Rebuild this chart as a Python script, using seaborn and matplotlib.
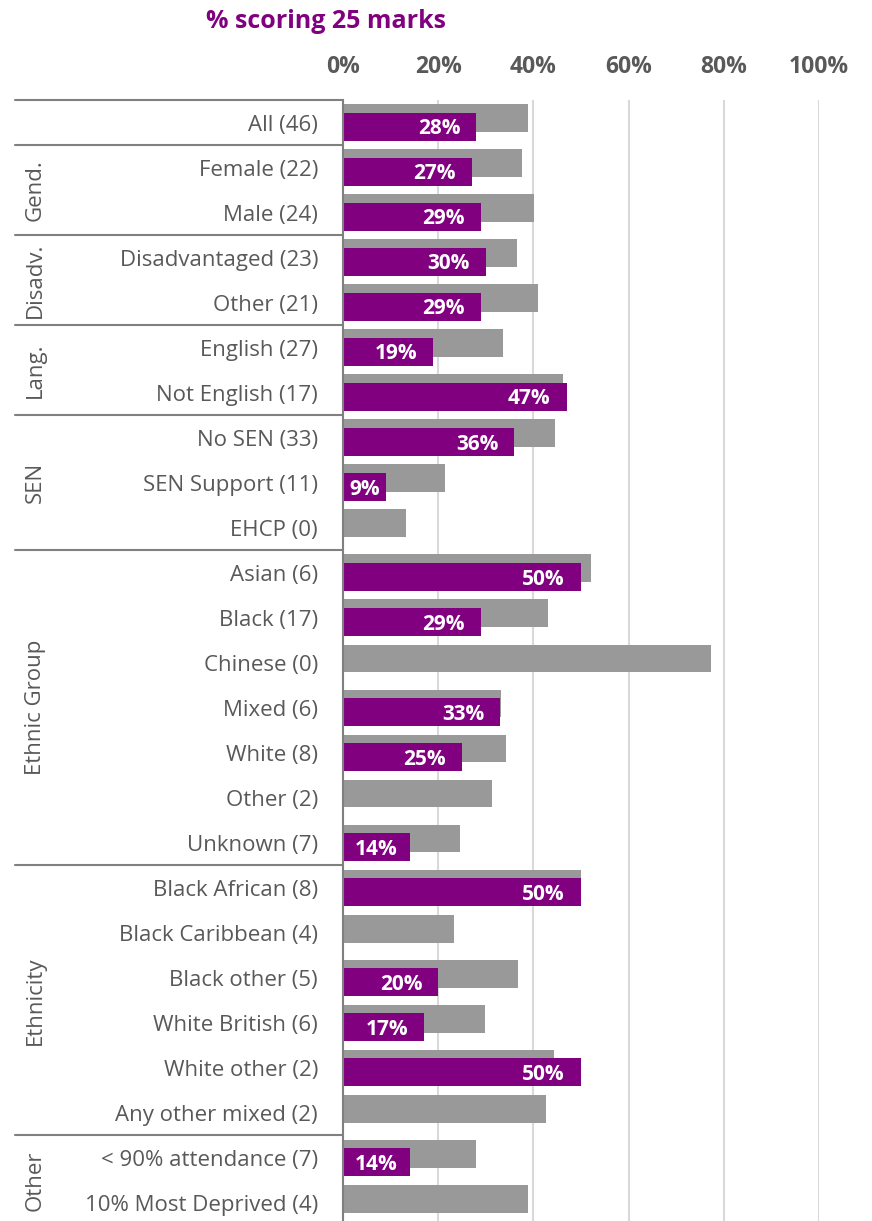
import matplotlib
matplotlib.use("Agg")
import matplotlib.pyplot as plt
import matplotlib.transforms as mtransforms
import numpy as np
import pandas as pd
import seaborn as sns

# ---- data -------------------------------------------------------------
categories = [
    "All (46)",
    "Female (22)", "Male (24)",
    "Disadvantaged (23)", "Other (21)",
    "English (27)", "Not English (17)",
    "No SEN (33)", "SEN Support (11)", "EHCP (0)",
    "Asian (6)", "Black (17)", "Chinese (0)", "Mixed (6)", "White (8)",
    "Other (2)", "Unknown (7)",
    "Black African (8)", "Black Caribbean (4)", "Black other (5)",
    "White British (6)", "White other (2)", "Any other mixed (2)",
    "< 90% attendance (7)", "10% Most Deprived (4)",
]
# comparison (grey) percentages
comparison = [
    38.8,
    37.6, 40.1,
    36.6, 40.9,
    33.6, 46.2,
    44.5, 21.4, 13.2,
    52.2, 43.0, 77.3, 33.1, 34.3, 31.3, 24.5,
    49.9, 23.3, 36.7, 29.9, 44.3, 42.6,
    28.0, 38.8,
]
# school percentages scoring 25 marks (None = no pupils)
school = [
    28,
    27, 29,
    30, 29,
    19, 47,
    36, 9, None,
    50, 29, None, 33, 25, None, 14,
    50, None, 20, 17, 50, None,
    14, None,
]
# group labels with the number of rows they span
groups = [("", 1), ("Gend.", 2), ("Disadv.", 2), ("Lang.", 2), ("SEN", 3),
          ("Ethnic Group", 7), ("Ethnicity", 6), ("Other", 2)]
x_ticks = [0, 20, 40, 60, 80, 100]
title = "% scoring 25 marks"

# ---- style ------------------------------------------------------------
sns.set_theme(style="white")
plt.rcParams["font.family"] = ["Open Sans", "DejaVu Sans"]

PURPLE = "#800080"
GREY = "#999999"
TEXT = "#595959"
LINE = "#808080"

W, H = 872, 1221
fig = plt.figure(figsize=(W / 100, H / 100), dpi=100)
ax = fig.add_axes([343 / W, 0, (819 - 343) / W, 1 - 100 / H])

n = len(categories)
pos = np.arange(n)
shift = 0.095
bar_h = 0.62

df_cmp = pd.DataFrame({"pos": pos - shift, "value": comparison})
df_sch = pd.DataFrame({"pos": pos + shift, "value": school}).dropna()

sns.barplot(data=df_cmp, x="value", y="pos", orient="h", native_scale=True,
            color=GREY, saturation=1, width=bar_h, linewidth=0, ax=ax,
            errorbar=None, zorder=2)
sns.barplot(data=df_sch, x="value", y="pos", orient="h", native_scale=True,
            color=PURPLE, saturation=1, width=bar_h, linewidth=0, ax=ax,
            errorbar=None, zorder=3)

ax.set_xlim(0, 100)
ax.set_ylim((H - 122) / 45.04, -0.5)
ax.set_xticks(x_ticks)
ax.set_xticklabels([f"{t}%" for t in x_ticks])
ax.xaxis.tick_top()
ax.tick_params(axis="x", length=0, pad=15, labelsize=16.5, labelcolor=TEXT)
for lab in ax.get_xticklabels():
    lab.set_fontweight("bold")

ax.set_yticks(pos)
ax.set_yticklabels(categories)
ax.tick_params(axis="y", length=0, pad=18, labelsize=16, labelcolor=TEXT)
for lab in ax.get_yticklabels():
    lab.set_y(lab.get_position()[1])
ax.set_xlabel("")
ax.set_ylabel("")

ax.grid(axis="x", color="#d9d9d9", linewidth=1.5, zorder=0)
ax.grid(axis="y", visible=False)
ax.set_axisbelow(True)
for s in ("top", "right", "bottom"):
    ax.spines[s].set_visible(False)
ax.spines["left"].set_color(LINE)
ax.spines["left"].set_linewidth(1.5)
ax.spines["left"].set_zorder(5)

# value labels: inside the bar end, or centred when the bar is too short
fig.canvas.draw()
renderer = fig.canvas.get_renderer()
px_per_unit = ax.transData.transform((1, 0))[0] - ax.transData.transform((0, 0))[0]
pad_px = 16
for p, v in zip(df_sch["pos"], df_sch["value"]):
    t = ax.annotate(f"{v:.0f}%", xy=(v, p), xytext=(-pad_px * 0.72, -1.5),
                    textcoords="offset points", ha="right", va="center",
                    color="white", fontsize=15, fontweight="bold", zorder=4)
    tw = t.get_window_extent(renderer).width
    if v * px_per_unit < tw + 2 * pad_px:
        t.xy = (v / 2, p)
        t.set_position((0, -1.5))
        t.set_ha("center")

# group separators and rotated group names on the left
trans = mtransforms.blended_transform_factory(ax.transAxes, ax.transData)
x_left = (15 - 343) / (819 - 343)
x_glabel = (35 - 343) / (819 - 343)
start = 0
ax.plot([x_left, 0], [-0.5, -0.5], transform=trans, color=LINE, lw=1.5,
        clip_on=False, zorder=5)
for name, size in groups:
    end = start + size
    ax.plot([x_left, 0], [end - 0.5, end - 0.5], transform=trans, color=LINE,
            lw=1.5, clip_on=False, zorder=5)
    if name:
        ax.text(x_glabel, (start + end - 1) / 2, name, transform=trans,
                rotation=90, ha="center", va="center", fontsize=16,
                color=TEXT, clip_on=False)
    start = end

fig.text(326 / W, 1 - 21 / H, title, ha="center", va="center",
         fontsize=18, fontweight="bold", color=PURPLE)

fig.savefig("out.png", dpi=100)
